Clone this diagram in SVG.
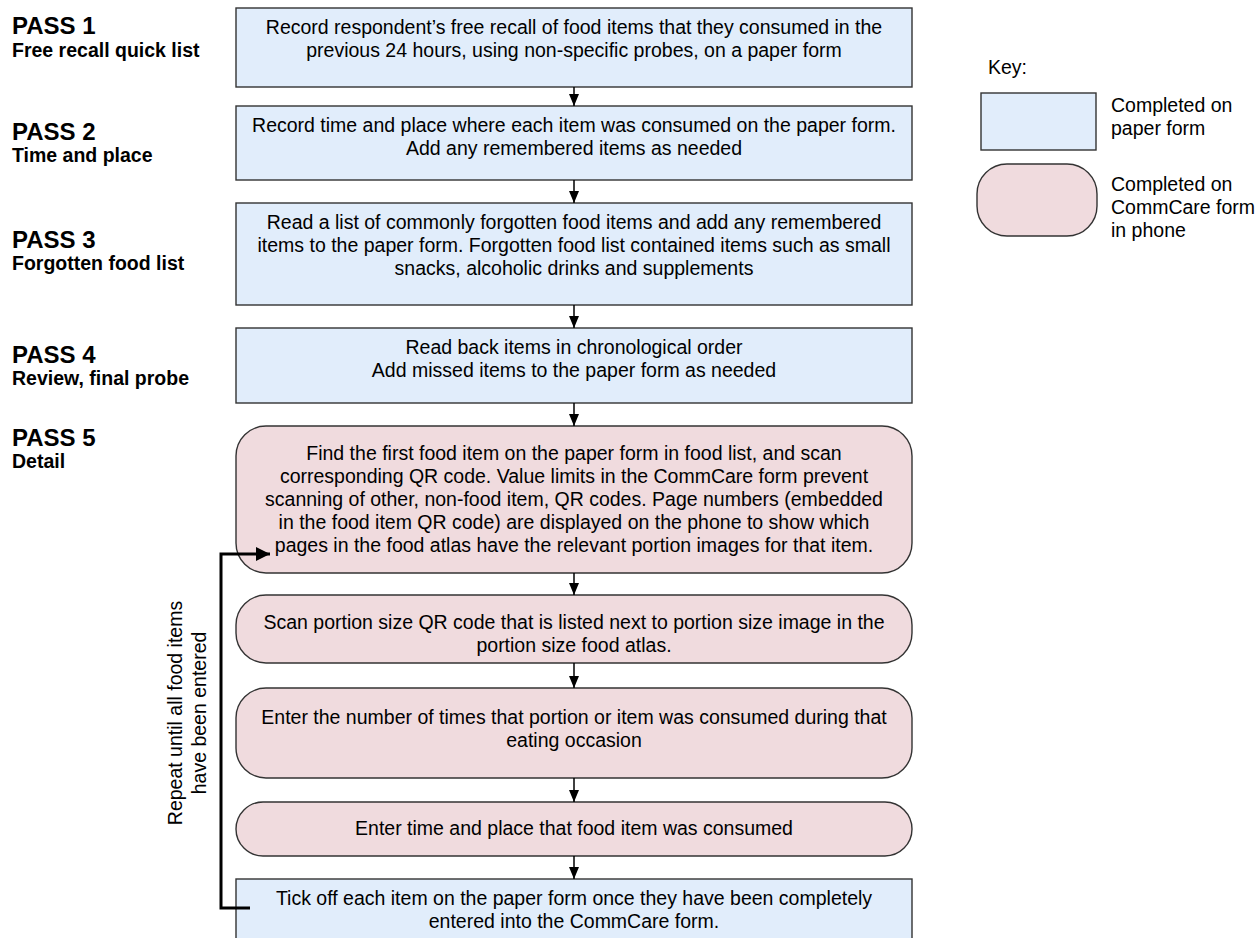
<svg xmlns="http://www.w3.org/2000/svg" width="1256" height="938" viewBox="0 0 1256 938">
<defs>
<style>
.t{font-family:"Liberation Sans",Arial,sans-serif;font-size:19.5px;fill:#000;text-anchor:middle}
.k{font-family:"Liberation Sans",Arial,sans-serif;font-size:19.5px;fill:#000}
.p{font-family:"Liberation Sans",Arial,sans-serif;font-size:24px;font-weight:bold;fill:#000}
.s{font-family:"Liberation Sans",Arial,sans-serif;font-size:19.5px;font-weight:bold;fill:#000}
.paper{fill:#e1edfb;stroke:#333;stroke-width:1.4}
.phone{fill:#f0dbde;stroke:#333;stroke-width:1.4}
.c{stroke:#000;stroke-width:1.5;fill:none}
.loop{stroke:#000;stroke-width:3;fill:none}
</style>
<marker id="ah" markerWidth="12" markerHeight="10" refX="12" refY="5" orient="auto" markerUnits="userSpaceOnUse">
<path d="M0,0 L12,5 L0,10 Z" fill="#000"/>
</marker>
<marker id="ahb" markerWidth="14" markerHeight="14" refX="14" refY="7" orient="auto" markerUnits="userSpaceOnUse">
<path d="M0,0 L14,7 L0,14 Z" fill="#000"/>
</marker>
</defs>
<rect width="1256" height="938" fill="#fff"/>

<g id="labels">
<text class="p" x="12" y="34">PASS 1</text>
<text class="s" x="12" y="57">Free recall quick list</text>
<text class="p" x="12" y="140">PASS 2</text>
<text class="s" x="12" y="162">Time and place</text>
<text class="p" x="12" y="248">PASS 3</text>
<text class="s" x="12" y="270">Forgotten food list</text>
<text class="p" x="12" y="363">PASS 4</text>
<text class="s" x="12" y="385">Review, final probe</text>
<text class="p" x="12" y="446">PASS 5</text>
<text class="s" x="12" y="468">Detail</text>
</g>

<g id="n1">
<rect class="paper" x="236" y="8" width="676" height="79"/>
<text class="t" x="574" y="34">Record respondent’s free recall of food items that they consumed in the</text>
<text class="t" x="574" y="57">previous 24 hours, using non-specific probes, on a paper form</text>
</g>
<g id="n2">
<rect class="paper" x="236" y="106" width="676" height="74"/>
<text class="t" x="574" y="132">Record time and place where each item was consumed on the paper form.</text>
<text class="t" x="574" y="155">Add any remembered items as needed</text>
</g>
<g id="n3">
<rect class="paper" x="236" y="203" width="676" height="102"/>
<text class="t" x="574" y="229">Read a list of commonly forgotten food items and add any remembered</text>
<text class="t" x="574" y="252">items to the paper form. Forgotten food list contained items such as small</text>
<text class="t" x="574" y="275">snacks, alcoholic drinks and supplements</text>
</g>
<g id="n4">
<rect class="paper" x="236" y="328" width="676" height="75"/>
<text class="t" x="574" y="354">Read back items in chronological order</text>
<text class="t" x="574" y="377">Add missed items to the paper form as needed</text>
</g>
<g id="n5">
<rect class="phone" x="236" y="426" width="676" height="147" rx="30" ry="30"/>
<text class="t" x="574" y="460">Find the first food item on the paper form in food list, and scan</text>
<text class="t" x="574" y="483">corresponding QR code. Value limits in the CommCare form prevent</text>
<text class="t" x="574" y="506">scanning of other, non-food item, QR codes. Page numbers (embedded</text>
<text class="t" x="574" y="529">in the food item QR code) are displayed on the phone to show which</text>
<text class="t" x="574" y="552">pages in the food atlas have the relevant portion images for that item.</text>
</g>
<g id="n6">
<rect class="phone" x="236" y="595" width="676" height="68" rx="30" ry="30"/>
<text class="t" x="574" y="629">Scan portion size QR code that is listed next to portion size image in the</text>
<text class="t" x="574" y="652">portion size food atlas.</text>
</g>
<g id="n7">
<rect class="phone" x="236" y="688" width="676" height="90" rx="30" ry="30"/>
<text class="t" x="574" y="724">Enter the number of times that portion or item was consumed during that</text>
<text class="t" x="574" y="747">eating occasion</text>
</g>
<g id="n8">
<rect class="phone" x="236" y="802" width="676" height="54" rx="27" ry="27"/>
<text class="t" x="574" y="835">Enter time and place that food item was consumed</text>
</g>
<g id="n9">
<rect class="paper" x="236" y="879" width="676" height="80"/>
<text class="t" x="574" y="905">Tick off each item on the paper form once they have been completely</text>
<text class="t" x="574" y="928">entered into the CommCare form.</text>
</g>

<g id="connectors">
<line class="c" x1="574" y1="87" x2="574" y2="106" marker-end="url(#ah)"/>
<line class="c" x1="574" y1="180" x2="574" y2="203" marker-end="url(#ah)"/>
<line class="c" x1="574" y1="305" x2="574" y2="328" marker-end="url(#ah)"/>
<line class="c" x1="574" y1="403" x2="574" y2="426" marker-end="url(#ah)"/>
<line class="c" x1="574" y1="573" x2="574" y2="595" marker-end="url(#ah)"/>
<line class="c" x1="574" y1="663" x2="574" y2="688" marker-end="url(#ah)"/>
<line class="c" x1="574" y1="778" x2="574" y2="802" marker-end="url(#ah)"/>
<line class="c" x1="574" y1="856" x2="574" y2="879" marker-end="url(#ah)"/>
<polyline class="loop" points="250,908 221,908 221,554 270,554" marker-end="url(#ahb)"/>
</g>

<g id="loop-label">
<text class="t" transform="translate(182,713) rotate(-90)">Repeat until all food items</text>
<text class="t" transform="translate(206,713) rotate(-90)">have been entered</text>
</g>

<g id="key">
<text class="k" x="988" y="74">Key:</text>
<rect class="paper" x="981" y="93" width="115" height="57"/>
<text class="k" x="1111" y="112">Completed on</text>
<text class="k" x="1111" y="135">paper form</text>
<rect class="phone" x="977" y="164" width="120" height="72" rx="30" ry="30"/>
<text class="k" x="1111" y="191">Completed on</text>
<text class="k" x="1111" y="214">CommCare form</text>
<text class="k" x="1111" y="237">in phone</text>
</g>
</svg>
